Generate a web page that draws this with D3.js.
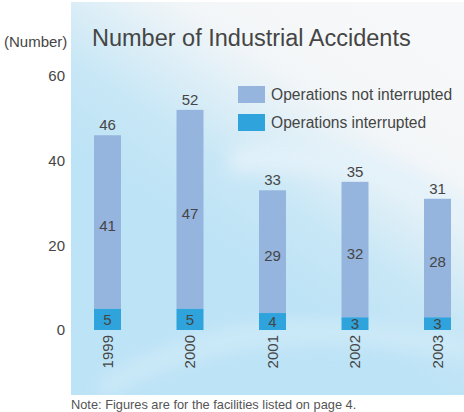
<!DOCTYPE html>
<html lang="en">
<head>
    <meta charset="UTF-8">
    <title>Number of Industrial Accidents</title>
    <script src="https://d3js.org/d3.v7.min.js"></script>
    <style>
        body { margin: 0; background: #fff; }
        svg { display: block; font-family: "Liberation Sans", Arial, sans-serif; }
    </style>
</head>
<body>
    <script>
        // data
        const years = ["1999", "2000", "2001", "2002", "2003"];
        const notInterrupted = [41, 47, 29, 32, 28];
        const interrupted = [5, 5, 4, 3, 3];
        const totals = [46, 52, 33, 35, 31];
        const yTicks = [0, 20, 40, 60];
        const seriesNames = ["Operations not interrupted", "Operations interrupted"];
        const seriesColors = ["#95b4de", "#2fa3dc"];

        const w = 464;
        const h = 412;
        const barW = 27;

        const svg = d3.select("body").append("svg")
            .attr("width", w)
            .attr("height", h);

        // background panel
        const defs = svg.append("defs");
        const grad = defs.append("linearGradient")
            .attr("id", "bg")
            .attr("x1", "0.75").attr("y1", "0")
            .attr("x2", "0.35").attr("y2", "0.6");
        grad.append("stop").attr("offset", "0").attr("stop-color", "#f7f8f9");
        grad.append("stop").attr("offset", "0.35").attr("stop-color", "#f3f6f8");
        grad.append("stop").attr("offset", "0.75").attr("stop-color", "#c8e7f6");
        grad.append("stop").attr("offset", "1").attr("stop-color", "#bde3f6");

        defs.append("filter").attr("id", "blur")
            .append("feGaussianBlur").attr("stdDeviation", 8);

        svg.append("rect")
            .attr("x", 71).attr("y", 2)
            .attr("width", w - 71).attr("height", 393)
            .attr("fill", "url(#bg)");

        const clip = defs.append("clipPath").attr("id", "panel");
        clip.append("rect").attr("x", 71).attr("y", 2).attr("width", w - 71).attr("height", 393);

        // soft light streaks
        const streaks = svg.append("g").attr("clip-path", "url(#panel)");
        streaks.append("path")
            .attr("d", "M230,150 C300,130 380,150 470,200 L470,225 C380,180 300,165 230,175 Z")
            .attr("fill", "#e4f2fa").attr("opacity", 0.8).attr("filter", "url(#blur)");
        streaks.append("path")
            .attr("d", "M100,380 C200,320 300,300 470,340 L470,360 C300,330 200,345 100,400 Z")
            .attr("fill", "#d2ecf8").attr("opacity", 0.7).attr("filter", "url(#blur)");

        const x = d3.scalePoint()
            .domain(years)
            .range([107.5, 437.5]);

        const y = d3.scaleLinear()
            .domain([0, 60])
            .range([330, 76]);

        const textColor = "#454545";

        // y tick labels
        svg.append("g").selectAll("text")
            .data(yTicks)
            .join("text")
            .attr("x", 65)
            .attr("y", d => y(d))
            .attr("dy", "0.35em")
            .attr("text-anchor", "end")
            .attr("font-size", 15)
            .attr("fill", textColor)
            .text(d => d);

        svg.append("text")
            .attr("x", 4).attr("y", 42)
            .attr("dy", "0.35em")
            .attr("font-size", 15)
            .attr("fill", textColor)
            .text("(Number)");

        svg.append("text")
            .attr("x", 92).attr("y", 38)
            .attr("dy", "0.35em")
            .attr("font-size", 23.5)
            .attr("fill", textColor)
            .text("Number of Industrial Accidents");

        // stacked bars
        const rows = years.map((yr, i) => ({year: yr, a: interrupted[i], b: notInterrupted[i], t: totals[i]}));

        const bars = svg.append("g");
        bars.selectAll("rect.upper")
            .data(rows)
            .join("rect")
            .attr("class", "upper")
            .attr("x", d => x(d.year) - barW / 2)
            .attr("y", d => y(d.a + d.b))
            .attr("width", barW)
            .attr("height", d => y(d.a) - y(d.a + d.b))
            .attr("fill", seriesColors[0]);

        bars.selectAll("rect.lower")
            .data(rows)
            .join("rect")
            .attr("class", "lower")
            .attr("x", d => x(d.year) - barW / 2)
            .attr("y", d => y(d.a))
            .attr("width", barW)
            .attr("height", d => y(0) - y(d.a))
            .attr("fill", seriesColors[1]);

        // value labels
        const labels = svg.append("g")
            .attr("text-anchor", "middle")
            .attr("font-size", 15)
            .attr("fill", textColor);

        labels.selectAll("text.total")
            .data(rows)
            .join("text")
            .attr("class", "total")
            .attr("x", d => x(d.year))
            .attr("y", d => y(d.t) - 5)
            .text(d => d.t);

        labels.selectAll("text.mid")
            .data(rows)
            .join("text")
            .attr("class", "mid")
            .attr("x", d => x(d.year))
            .attr("y", d => (y(d.a) + y(d.a + d.b)) / 2 + 4)
            .attr("dy", "0.35em")
            .text(d => d.b);

        labels.selectAll("text.low")
            .data(rows)
            .join("text")
            .attr("class", "low")
            .attr("x", d => x(d.year))
            .attr("y", d => (y(0) + y(d.a)) / 2)
            .attr("dy", "0.35em")
            .text(d => d.a);

        // year labels, rotated
        svg.append("g").selectAll("text")
            .data(years)
            .join("text")
            .attr("transform", d => "translate(" + x(d) + ",335) rotate(-90)")
            .attr("dy", "0.35em")
            .attr("text-anchor", "end")
            .attr("font-size", 15)
            .attr("fill", textColor)
            .text(d => d);

        // legend
        const legend = svg.append("g").attr("transform", "translate(238,86)");
        legend.selectAll("rect")
            .data(seriesNames)
            .join("rect")
            .attr("x", 0)
            .attr("y", (d, i) => i * 28)
            .attr("width", 27)
            .attr("height", 17)
            .attr("fill", (d, i) => seriesColors[i]);
        legend.selectAll("text")
            .data(seriesNames)
            .join("text")
            .attr("x", 33)
            .attr("y", (d, i) => i * 28 + 8.5)
            .attr("dy", "0.35em")
            .attr("font-size", 15.6)
            .attr("fill", textColor)
            .text(d => d);

        // note
        svg.append("text")
            .attr("x", 71).attr("y", 405)
            .attr("dy", "0.35em")
            .attr("font-size", 12.8)
            .attr("fill", "#555")
            .text("Note: Figures are for the facilities listed on page 4.");
    </script>
</body>
</html>
